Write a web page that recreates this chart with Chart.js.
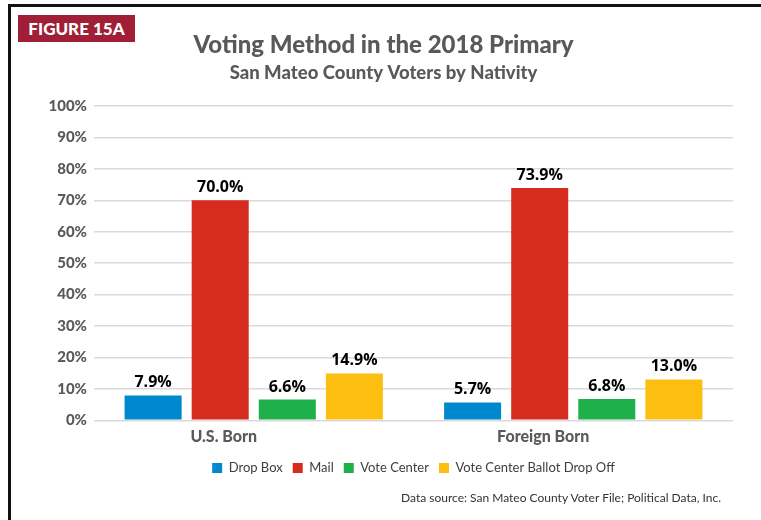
<!DOCTYPE html>
<html>
<head>
<meta charset="utf-8">
<script src="https://cdn.jsdelivr.net/npm/chart.js@4.4.1/dist/chart.umd.min.js"></script>
<style>
  body { margin: 0; background: #fff; }
  #wrap { position: relative; width: 761px; height: 520px; overflow: hidden; }
  #frame { position: absolute; left: 8px; top: 4px; width: 800px; height: 600px;
           border-left: 3px solid #111; border-top: 3px solid #111; }
  #fig { position: absolute; left: 18px; top: 15px; width: 117px; height: 27px;
         background: #a01f37; color: #fff; font: 900 17px Lato, sans-serif;
         line-height: 27px; text-align: center; }
  #source { position: absolute; right: 40px; top: 490px; font: 12px Lato, sans-serif; color: #333; }
  #myChart { position: absolute; left: 0; top: 0; }
</style>
</head>
<body>
<div id="wrap">
  <div id="frame"></div>
  <canvas id="myChart" width="761" height="520"></canvas>
  <div id="fig">FIGURE 15A</div>
  <div id="source">Data source: San Mateo County Voter File; Political Data, Inc.</div>
</div>
<script>
const groups = ['U.S. Born', 'Foreign Born'];
const methods = ['Drop Box', 'Mail', 'Vote Center', 'Vote Center Ballot Drop Off'];
const dropBox = [7.9, 5.7];
const mail = [70.0, 73.9];
const voteCenter = [6.6, 6.8];
const ballotDropOff = [14.9, 13.0];
const yTicks = [0, 10, 20, 30, 40, 50, 60, 70, 80, 90, 100];

const colors = ['#0088cf', '#d62c20', '#1db04b', '#fdbe12'];
const series = [dropBox, mail, voteCenter, ballotDropOff];

// value labels above each bar
const barLabels = {
  id: 'barLabels',
  afterDatasetsDraw(chart) {
    const c = chart.ctx;
    c.save();
    c.font = 'bold 16px "Open Sans", sans-serif';
    c.fillStyle = '#000';
    c.textAlign = 'center';
    c.textBaseline = 'alphabetic';
    chart.data.datasets.forEach((ds, i) => {
      chart.getDatasetMeta(i).data.forEach((bar, j) => {
        c.fillText(ds.data[j].toFixed(1) + '%', bar.x, bar.y - 8);
      });
    });
    c.restore();
  }
};

new Chart(document.querySelector('#myChart'), {
  type: 'bar',
  data: {
    labels: groups,
    datasets: methods.map((m, i) => ({
      label: m,
      data: series[i],
      backgroundColor: colors[i],
      categoryPercentage: 0.84,
      barPercentage: 0.85
    }))
  },
  options: {
    responsive: false,
    animation: false,
    devicePixelRatio: 1,
    layout: { padding: { left: 34, right: 28, top: 0, bottom: 35.5 } },
    plugins: {
      title: {
        display: true,
        text: 'Voting Method in the 2018 Primary',
        color: '#595959',
        font: { family: 'Lato', size: 24, weight: 900 },
        padding: { top: 31, bottom: 2 }
      },
      subtitle: {
        display: true,
        text: 'San Mateo County Voters by Nativity',
        color: '#595959',
        font: { family: 'Lato', size: 18.5, weight: 900 },
        padding: { top: 0, bottom: 22 }
      },
      legend: {
        position: 'bottom',
        fullSize: false,
        labels: {
          boxWidth: 10,
          boxHeight: 10,
          padding: 10,
          color: '#404040',
          font: { family: 'Lato', size: 13 }
        }
      },
      tooltip: { enabled: false }
    },
    scales: {
      x: {
        grid: { display: false, drawTicks: false },
        border: { display: false },
        ticks: {
          color: '#5a5a5a',
          padding: 7,
          labelOffset: -30,
          font: { family: 'Lato', size: 16, weight: 900 }
        },
        afterFit(scale) { scale.height -= 2; }
      },
      y: {
        min: 0,
        max: 100,
        border: { display: false },
        grid: { color: '#dadada', lineWidth: 1.5, drawTicks: false },
        afterBuildTicks(scale) { scale.ticks = yTicks.map(v => ({ value: v })); },
        afterFit(scale) { scale.width = 60; },
        ticks: {
          color: '#5a5a5a',
          padding: 7,
          font: { family: 'Lato', size: 15, weight: 900 },
          callback: v => v + '%'
        }
      }
    }
  },
  plugins: [barLabels]
});
</script>
</body>
</html>
